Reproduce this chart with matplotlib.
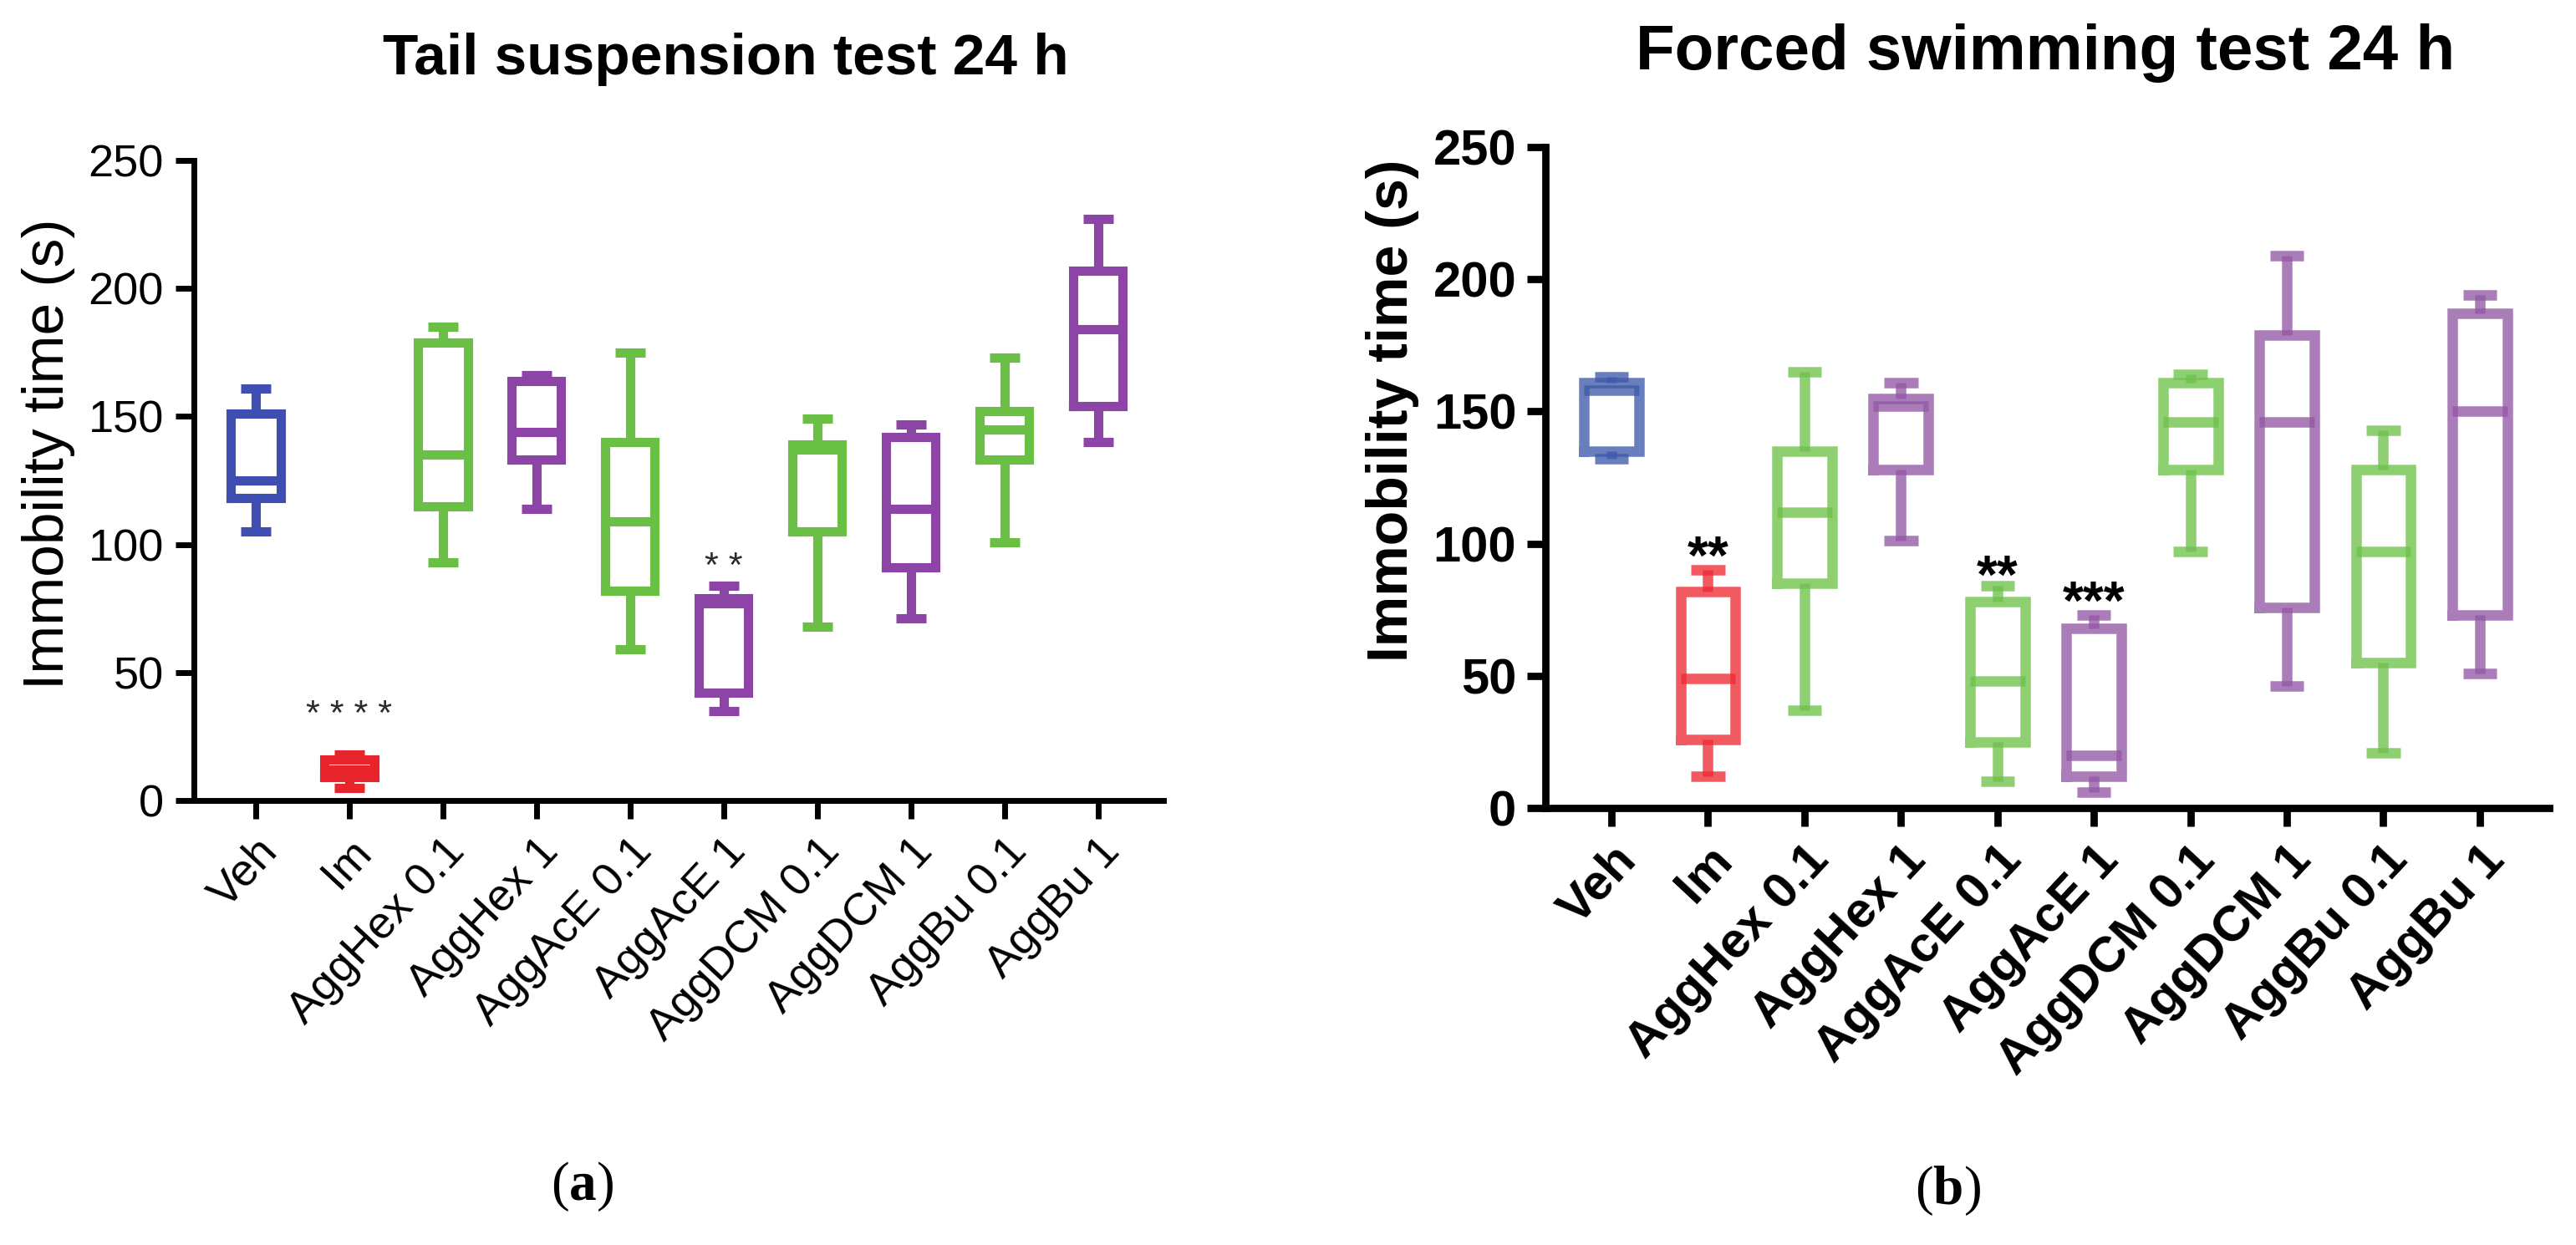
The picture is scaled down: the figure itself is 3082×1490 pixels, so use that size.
import matplotlib
matplotlib.use('Agg')
import matplotlib.pyplot as plt

plt.rcParams['font.family'] = ['Liberation Sans', 'DejaVu Sans']
plt.rcParams['mathtext.fontset'] = 'custom'
plt.rcParams['mathtext.bf'] = 'Liberation Serif:bold'
plt.rcParams['mathtext.rm'] = 'Liberation Serif'

groups = ['Veh', 'Im', 'AggHex 0.1', 'AggHex 1', 'AggAcE 0.1', 'AggAcE 1',
          'AggDCM 0.1', 'AggDCM 1', 'AggBu 0.1', 'AggBu 1']
group_kind = ['veh', 'im', 'g', 'p', 'g', 'p', 'g', 'p', 'g', 'p']

# (a) tail suspension test, immobility time (s)
tst_min = [105, 5, 93, 114, 59, 35, 68, 71, 101, 140]
tst_q1 = [118, 9, 115, 133, 82, 42, 105, 91, 133, 154]
tst_med = [125, 12, 135, 144, 109, 77, 137, 114, 145, 184]
tst_q3 = [151, 16, 179, 164, 140, 79, 139, 142, 152, 207]
tst_max = [161, 18, 185, 166, 175, 84, 149, 147, 173, 227]
tst_stars = [(1, '* * * *', 38), (5, '* *', 95.5)]

# (b) forced swimming test, immobility time (s)
fst_min = [132, 12, 37, 101, 10, 6, 97, 46, 21, 51]
fst_q1 = [135, 26, 85, 128, 25, 12, 128, 76, 55, 73]
fst_med = [158, 49, 112, 152, 48, 20, 146, 146, 97, 150]
fst_q3 = [161, 82, 135, 155, 78, 68, 161, 179, 128, 187]
fst_max = [163, 90, 165, 161, 84, 73, 164, 209, 143, 194]
fst_stars = [(1, '**', 97.6), (4, '**', 90.4), (5, '***', 80.5)]

yticks = [0, 50, 100, 150, 200, 250]

colors_a = {'veh': '#3f4eb2', 'im': '#e8242c', 'g': '#69c045', 'p': '#8c45a6'}
colors_b = {'veh': '#3f5aaa', 'im': '#ee2b34', 'g': '#6ec24b', 'p': '#9358a5'}

W, H = 3082, 1490
fig = plt.figure(figsize=(W / 100, H / 100), dpi=100)


def draw_boxes(ax, mins, q1s, meds, q3s, maxs, palette, alpha, lw, box_w, cap_w):
    stats = [dict(whislo=a, q1=b, med=c, q3=d, whishi=e)
             for a, b, c, d, e in zip(mins, q1s, meds, q3s, maxs)]
    art = ax.bxp(stats, positions=list(range(len(stats))), widths=box_w,
                 capwidths=cap_w, showfliers=False, manage_ticks=False)
    for i, kind in enumerate(group_kind):
        col = palette[kind]
        parts = [art['boxes'][i], art['medians'][i],
                 art['whiskers'][2 * i], art['whiskers'][2 * i + 1],
                 art['caps'][2 * i], art['caps'][2 * i + 1]]
        for p in parts:
            p.set_color(col)
            p.set_alpha(alpha)
            p.set_linewidth(lw)
            p.set_solid_joinstyle('miter')
        for c in parts[2:]:
            c.set_solid_capstyle('butt')


def style_axis(ax, xlim, spine_w, tick_len, fs, weight, pad, rot):
    ax.set_xlim(*xlim)
    ax.set_ylim(0, 250)
    ax.spines['top'].set_visible(False)
    ax.spines['right'].set_visible(False)
    for s in ('left', 'bottom'):
        ax.spines[s].set_linewidth(spine_w)
        ax.spines[s].set_capstyle('projecting')
    ax.set_yticks(yticks)
    ax.set_yticklabels([str(t) for t in yticks], fontsize=fs, fontweight=weight)
    ax.set_xticks(range(len(groups)))
    ax.set_xticklabels(groups, fontsize=fs, fontweight=weight, rotation=rot,
                       ha='right', va='top', rotation_mode='anchor')
    ax.tick_params(axis='both', direction='out', length=tick_len,
                   width=spine_w, pad=pad)
    ax.patch.set_alpha(0)


# ---- panel (a)
ax1 = fig.add_axes([232 / W, 1 - 958 / H, (1392 - 232) / W, (958 - 192) / H])
draw_boxes(ax1, tst_min, tst_q1, tst_med, tst_q3, tst_max, colors_a,
           1.0, 8, 0.53, 0.32)
style_axis(ax1, (-0.66, 9.70), 5, 16, 39, 'normal', 10, 47)
for i, txt, yv in tst_stars:
    ax1.annotate(txt, xy=(i, yv), xytext=(0, -0.58 * 31), textcoords='offset points',
                 ha='center', va='baseline', fontsize=31, color='#2b2b2b')
fig.text(58 / W, 1 - 543 / H, 'Immobility time (s)', rotation=90,
         ha='center', va='center', fontsize=50)
fig.text(868 / W, 1 - 89 / H, 'Tail suspension test 24 h', ha='center',
         va='baseline', fontsize=50, fontweight='bold')
fig.text(697 / W, 1 - 1420 / H, r'($\mathbf{a}$)', ha='center', va='center',
         fontsize=47, family='Liberation Serif')

# ---- panel (b)
ax2 = fig.add_axes([1849 / W, 1 - 967 / H, (3050 - 1849) / W, (967 - 176) / H])
draw_boxes(ax2, fst_min, fst_q1, fst_med, fst_q3, fst_max, colors_b,
           0.78, 9, 0.57, 0.35)
style_axis(ax2, (-0.685, 9.72), 6.3, 16, 43, 'bold', 9, 47)
for i, txt, yv in fst_stars:
    ax2.annotate(txt, xy=(i, yv), xytext=(0, -0.45 * 46), textcoords='offset points',
                 ha='center', va='baseline', fontsize=46, fontweight='bold',
                 color='black')
fig.text(1666 / W, 1 - 491 / H, 'Immobility time (s)', rotation=90,
         ha='center', va='center', fontsize=49, fontweight='bold')
fig.text(2447 / W, 1 - 83 / H, 'Forced swimming test 24 h', ha='center',
         va='baseline', fontsize=55, fontweight='bold')
fig.text(2330 / W, 1 - 1425 / H, r'($\mathbf{b}$)', ha='center', va='center',
         fontsize=47, family='Liberation Serif')

fig.savefig('out.png', dpi=100, facecolor='white')
